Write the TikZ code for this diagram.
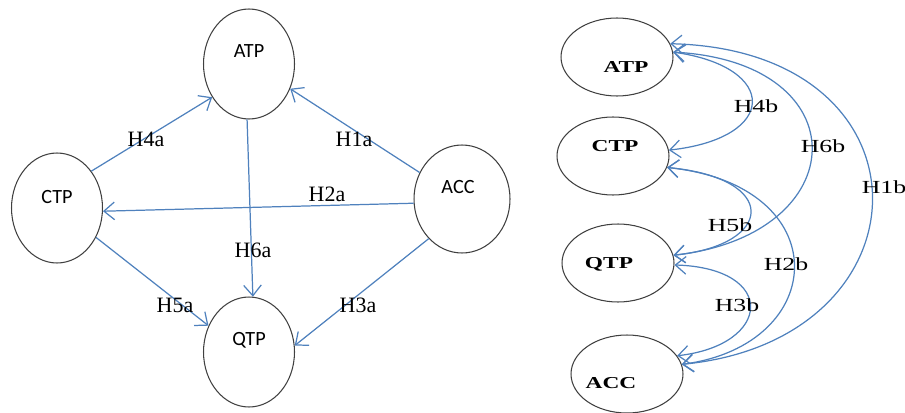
\documentclass[tikz,border=0pt]{standalone}
\usepackage{fontspec}
\setmainfont{Liberation Serif}
\newfontfamily\calibri{Carlito}
\usepackage{graphicx}
\usepackage{tikz}
\usetikzlibrary{shapes.geometric}
\usetikzlibrary{arrows.meta}
\usepackage{xcolor}
\definecolor{hblue}{RGB}{79,129,189}

\begin{document}
\begin{tikzpicture}[x=0.02cm,y=-0.02cm]

\def\lw{0.7pt}
\def\lwell{0.6pt}
\def\wide#1{\scalebox{1.4}[1]{#1}}
\tikzset{
ell/.style={ellipse,draw=black!75,line width=\lwell,inner sep=0pt},
lell/.style={ell,minimum width=1.82cm,minimum height=2.2cm},
rell/.style={ell,minimum width=2.24cm,minimum height=1.56cm},
barb/.tip={Straight Barb[length=6pt,width=10pt]},
arr/.style={color=hblue,line width=\lw,-barb},
darr/.style={color=hblue,line width=\lw,barb-barb},
ltxt/.style={font=\calibri\fontsize{11.5}{13}\selectfont,inner sep=0pt},
htxt/.style={font=\fontsize{12.5}{14}\selectfont,inner sep=0pt},
rtxt/.style={font=\bfseries\fontsize{9.5}{11}\selectfont,inner sep=0pt},
rhtxt/.style={font=\fontsize{10.5}{12}\selectfont,inner sep=0pt}
}

\useasboundingbox (0,0) rectangle (905,412);
%\draw [help lines,step=50] (0,0) grid (905,412);

% left model
\node[lell] (ATPa) at (249,64) {};
\node[lell] (CTPa) at (57,208) {};
\node[lell] (QTPa) at (249,352) {};
\node[lell,minimum width=1.92cm,minimum height=2.16cm] (ACCa) at (462,199) {};

\node[ltxt] (tATPa) at (249,51) {ATP};
\node[ltxt] (tCTPa) at (57,197) {CTP};
\node[ltxt] (tQTPa) at (249,340) {QTP};
\node[ltxt] (tACCa) at (458,187) {ACC};

\draw[arr] (CTPa.47) -- (ATPa.222);
\draw[arr] (ACCa.148) -- (ATPa.329);
\draw[arr] (ACCa.185) -- (CTPa.356);
\draw[arr] (ATPa.268) -- (QTPa.86);
\draw[arr] (CTPa.323) -- (QTPa.147);
\draw[arr] (ACCa.230) -- (QTPa.8);

\node[htxt] (H4a) at (146,139) {H4a};
\node[htxt] (H1a) at (354,139) {H1a};
\node[htxt] (H2a) at (327,194) {H2a};
\node[htxt] (H6a) at (253,250) {H6a};
\node[htxt] (H5a) at (175,305) {H5a};
\node[htxt] (H3a) at (358,305) {H3a};

% right model
\node[rell] (ATPb) at (617,57) {};
\node[rell] (CTPb) at (613,156) {};
\node[rell] (QTPb) at (618,263) {};
\node[rell] (ACCb) at (627,374) {};

\node[rtxt] (tATPb) at (626,67) {\wide{ATP}};
\node[rtxt] (tCTPb) at (615,146) {\wide{CTP}};
\node[rtxt] (tQTPb) at (609,264) {\wide{QTP}};
\node[rtxt] (tACCb) at (611,383) {\wide{ACC}};

\draw[darr] (ATPb.5) .. controls (779,67) and (779,138) .. (CTPb.6);
\draw[darr] (ATPb.5) .. controls (861,62) and (855,235) .. (QTPb.8);
\draw[darr] (ATPb.14) .. controls (940,50) and (935,340) .. (ACCb.10);
\draw[darr] (CTPb.-12) .. controls (780,178) and (775,245) .. (QTPb.8);
\draw[darr] (CTPb.-12) .. controls (838,185) and (830,345) .. (ACCb.10);
\draw[darr] (QTPb.-2) .. controls (778,268) and (772,345) .. (ACCb.20);

\node[rhtxt] (H4b) at (756,106) {\wide{H4b}};
\node[rhtxt] (H6b) at (823,146) {\wide{H6b}};
\node[rhtxt] (H1b) at (884,187) {\wide{H1b}};
\node[rhtxt] (H5b) at (730,225) {\wide{H5b}};
\node[rhtxt] (H2b) at (786,264) {\wide{H2b}};
\node[rhtxt] (H3b) at (737,305) {\wide{H3b}};

\end{tikzpicture}
\end{document}
